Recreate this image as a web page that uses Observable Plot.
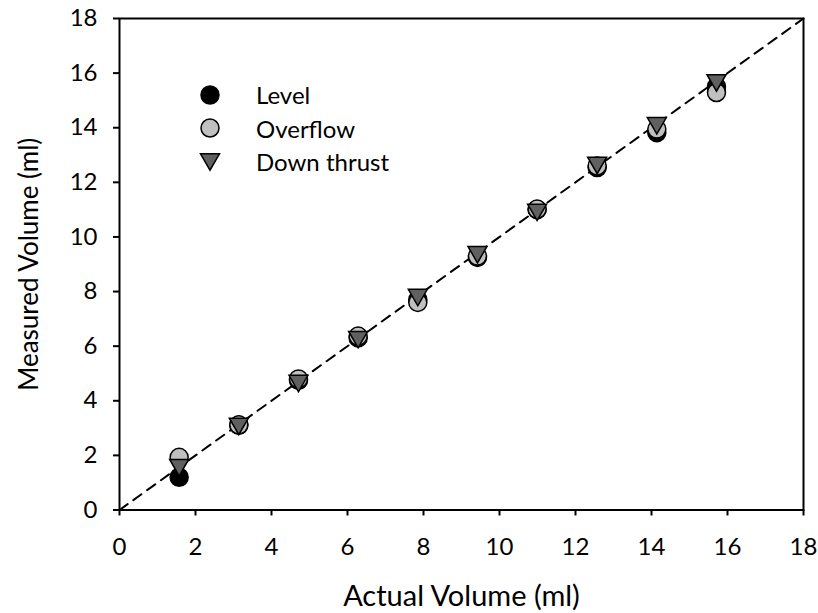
<!DOCTYPE html>
<html>
<head>
<meta charset="utf-8">
<script src="https://cdn.jsdelivr.net/npm/d3@7"></script>
<script src="https://cdn.jsdelivr.net/npm/@observablehq/plot@0.6"></script>
<style>
  html, body { margin: 0; padding: 0; background: #fff; }
  #wrap { position: relative; width: 818px; height: 613px; font-family: Lato, sans-serif; }
  #legend { position: absolute; left: 196px; top: 78px; font-size: 24px; color: #000; }
  .row { display: flex; align-items: center; height: 33.5px; }
  .row svg { width: 28px; height: 28px; margin-right: 32px; }
</style>
</head>
<body>
<div id="wrap"></div>
<script>
// ---- data ----
const actual     = [1.57, 3.14, 4.71, 6.28, 7.85, 9.42, 10.99, 12.57, 14.14, 15.71];
const level      = [1.20, 3.10, 4.75, 6.30, 7.70, 9.25, 11.00, 12.54, 13.82, 15.50];
const overflow   = [1.93, 3.12, 4.80, 6.37, 7.60, 9.30, 11.02, 12.60, 13.95, 15.29];
const downThrust = [1.55, 3.06, 4.63, 6.24, 7.78, 9.35, 10.90, 12.62, 14.07, 15.64];
const seriesNames = ["Level", "Overflow", "Down thrust"];
const axisTicks = [0, 2, 4, 6, 8, 10, 12, 14, 16, 18];
const identityLine = [0, 18];

// ---- style ----
const fills = {"Level": "#000000", "Overflow": "#c0c0c0", "Down thrust": "#606060"};
const downTri = {
  draw(ctx, size) {
    const w = Math.sqrt(size / Math.PI);
    const h = w * 1.732;
    ctx.moveTo(-w, -h / 2);
    ctx.lineTo(w, -h / 2);
    ctx.lineTo(0, h / 2);
    ctx.closePath();
  }
};
const symbols = {"Level": "circle", "Overflow": "circle", "Down thrust": downTri};
const radii = {"Level": 9, "Overflow": 9, "Down thrust": 9.5};

const seriesValues = {"Level": level, "Overflow": overflow, "Down thrust": downThrust};
const rows = seriesNames.flatMap(name => actual.map((a, i) => ({series: name, x: a, y: seriesValues[name][i]})));
const diag = identityLine.map(v => ({x: v, y: v}));

const font = "Lato, sans-serif";
const chart = Plot.plot({
  width: 818,
  height: 613,
  marginLeft: 119,
  marginRight: 15,
  marginTop: 18,
  marginBottom: 103.5,
  style: {fontFamily: font, fontSize: "24px", color: "#000", background: "#fff"},
  x: {domain: [0, 18], ticks: axisTicks},
  y: {domain: [0, 18], ticks: axisTicks},
  marks: [
    Plot.frame({stroke: "#000", strokeWidth: 2}),
    Plot.axisX({ticks: axisTicks, tickSize: 6, tickPadding: 22, strokeWidth: 2, fontSize: 24,
      label: "Actual Volume (ml)", labelAnchor: "center", labelArrow: "none", labelOffset: 96}),
    Plot.axisY({ticks: axisTicks, tickSize: 6, tickPadding: 16, strokeWidth: 2, fontSize: 24,
      label: "Measured Volume (ml)", labelAnchor: "center", labelArrow: "none", labelOffset: 100}),
    Plot.line(diag, {x: "x", y: "y", stroke: "#000", strokeWidth: 2, strokeDasharray: "10,7"}),
    ...seriesNames.map(name => Plot.dot(rows.filter(d => d.series === name), {
      x: "x", y: "y", r: radii[name], symbol: symbols[name],
      fill: fills[name], stroke: "#000", strokeWidth: 1.5
    }))
  ]
});
document.getElementById("wrap").appendChild(chart);

// style axis titles
d3.select(chart).selectAll("text").each(function() {
  const t = d3.select(this);
  const s = t.text();
  if (s === "Actual Volume (ml)") t.attr("font-size", 29);
  if (s === "Measured Volume (ml)") t.attr("font-size", 26);
});

// ---- legend ----
const legend = d3.select("#wrap").append("div").attr("id", "legend");
seriesNames.forEach(name => {
  const row = legend.append("div").attr("class", "row");
  const svg = row.append("svg").attr("viewBox", "-14 -14 28 28");
  const sym = name === "Down thrust" ? downTri : d3.symbolCircle;
  svg.append("path")
    .attr("d", d3.symbol(sym, Math.PI * radii[name] * radii[name])())
    .attr("fill", fills[name]).attr("stroke", "#000").attr("stroke-width", 1.5);
  row.append("span").text(name);
});
</script>
</body>
</html>
